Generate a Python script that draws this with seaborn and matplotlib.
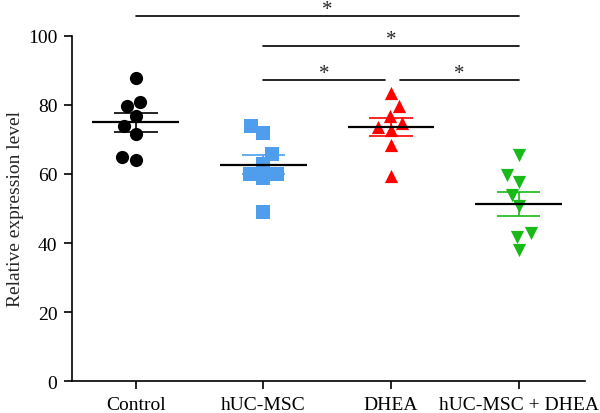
"""
plot.py
-------
Scatter dot plot of relative expression level per group, with mean ± SEM
and significance brackets. Saves out.png.
"""

import matplotlib
matplotlib.use("Agg")
import matplotlib.pyplot as plt
import numpy as np
import pandas as pd
import seaborn as sns

# ── Data ────────────────────────────────────────────────────────────────────
groups = ["Control", "hUC-MSC", "DHEA", "hUC-MSC + DHEA"]
control = [87.7, 80.8, 79.8, 76.9, 73.8, 71.6, 64.8, 63.9]
huc_msc = [73.8, 71.9, 65.8, 62.9, 59.9, 59.9, 58.8, 48.9]
dhea = [83.5, 79.6, 76.7, 74.8, 73.5, 72.6, 68.5, 59.5]
huc_msc_dhea = [65.6, 59.7, 57.8, 54.0, 50.7, 42.8, 41.8, 38.0]
y_ticks = [0, 20, 40, 60, 80, 100]

# ── Styling ─────────────────────────────────────────────────────────────────
sns.set_theme(style="ticks")
plt.rcParams["font.family"] = ["Liberation Serif", "DejaVu Serif"]
FONT_SIZE = 14

colors = ["#000000", "#4f9ded", "#ff0000", "#19b919"]
markers = ["o", "s", "^", "v"]

df = pd.DataFrame({
    "group": np.repeat(groups, 8),
    "value": control + huc_msc + dhea + huc_msc_dhea,
})

fig, ax = plt.subplots(figsize=(6, 4.14), dpi=100)
fig.subplots_adjust(left=0.12, right=0.975, bottom=0.077, top=0.911)

for g, c, m in zip(groups, colors, markers):
    sns.swarmplot(
        data=df[df["group"] == g], x="group", y="value", order=groups,
        color=c, marker=m, size=9.5, linewidth=0, ax=ax,
    )

# Mean (black) and SEM (group colour)
for i, (g, c) in enumerate(zip(groups, colors)):
    vals = df.loc[df["group"] == g, "value"].to_numpy()
    mean = vals.mean()
    sem = vals.std(ddof=1) / np.sqrt(len(vals))
    ax.vlines(i, mean - sem, mean + sem, color=c, lw=1.2, zorder=4)
    ax.hlines([mean - sem, mean + sem], i - 0.17, i + 0.17, color=c, lw=1.2, zorder=4)
    ax.hlines(mean, i - 0.34, i + 0.34, color="black", lw=1.6, zorder=5)

# Significance brackets
comparisons = [
    ("Control", "hUC-MSC + DHEA", 105.8, 0.0, 0.0),
    ("hUC-MSC", "hUC-MSC + DHEA", 97.2, 0.0, 0.0),
    ("hUC-MSC", "DHEA", 87.3, 0.0, 0.05),
    ("DHEA", "hUC-MSC + DHEA", 87.3, 0.07, 0.0),
]
for a, b, y, pad_a, pad_b in comparisons:
    x1 = groups.index(a) + pad_a
    x2 = groups.index(b) - pad_b
    ax.plot([x1, x2], [y, y], color="black", lw=1.2, clip_on=False)
    ax.text((x1 + x2) / 2, y + 0.5, "*", ha="center", va="baseline",
            fontsize=15, clip_on=False)

ax.set_ylim(0, 100)
ax.set_xlim(-0.5, 3.52)
ax.set_yticks(y_ticks)
ax.set_xlabel("")
ax.set_ylabel("Relative expression level", fontsize=FONT_SIZE, labelpad=3)
ax.tick_params(axis="both", labelsize=FONT_SIZE, length=5.5, width=1.2,
               color="black", labelcolor="black", pad=5)
for side in ["left", "bottom"]:
    ax.spines[side].set_linewidth(1.2)
    ax.spines[side].set_color("black")
sns.despine(ax=ax)

fig.savefig("out.png", dpi=100)
plt.close(fig)
